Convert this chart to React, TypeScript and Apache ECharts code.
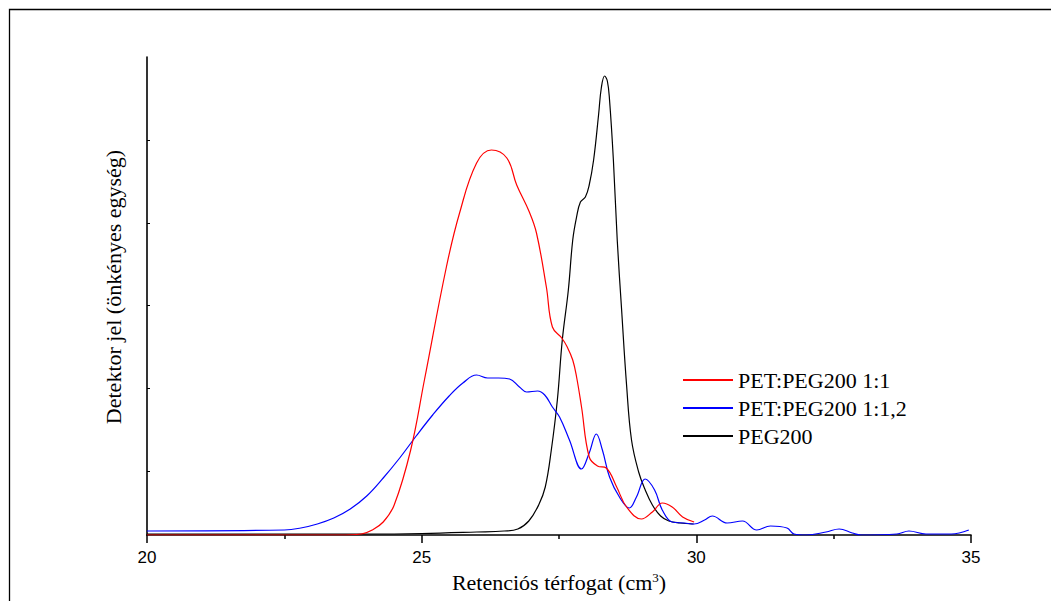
import React, { useEffect, useRef } from "react";
import * as echarts from "echarts";

const seriesNames = ["PET:PEG200 1:1", "PET:PEG200 1:1,2", "PEG200"];

const xTicks = [20, 25, 30, 35];
const yTickValues = [0.64, 1.47, 2.3, 3.12, 3.95];

const petPeg11: number[][] = [
  [20, 0], [23.5, 0], [23.9, 0.01], [24.1, 0.05], [24.3, 0.13], [24.5, 0.3],
  [24.8, 0.85], [25.05, 1.55], [25.45, 2.68], [25.69, 3.22], [26.0, 3.72],
  [26.27, 3.85], [26.55, 3.77], [26.73, 3.5], [26.96, 3.23], [27.09, 3.02],
  [27.27, 2.48], [27.38, 2.08], [27.55, 1.97], [27.65, 1.88], [27.75, 1.75],
  [27.82, 1.58], [27.91, 1.28], [28.05, 0.78], [28.2, 0.69], [28.36, 0.67],
  [28.55, 0.48], [28.73, 0.28], [29.0, 0.16], [29.2, 0.23], [29.38, 0.32],
  [29.56, 0.28], [29.75, 0.18], [29.96, 0.13],
];

const petPeg112: number[][] = [
  [20, 0.04], [22.5, 0.05], [22.8, 0.07], [23.1, 0.11], [23.4, 0.17],
  [23.7, 0.26], [24.0, 0.39], [24.3, 0.57], [24.6, 0.77], [24.9, 0.99],
  [25.2, 1.2], [25.5, 1.39], [25.75, 1.52], [26.0, 1.6], [26.2, 1.57],
  [26.4, 1.57], [26.6, 1.56], [26.78, 1.48], [26.91, 1.43], [27.11, 1.44],
  [27.24, 1.4], [27.38, 1.28], [27.51, 1.18], [27.69, 0.95], [27.91, 0.66],
  [28.05, 0.82], [28.18, 1.01], [28.29, 0.85], [28.42, 0.58], [28.6, 0.38],
  [28.78, 0.27], [28.91, 0.38], [29.07, 0.56], [29.24, 0.45], [29.38, 0.25],
  [29.56, 0.13], [29.78, 0.12], [29.96, 0.11], [30.15, 0.15], [30.29, 0.19],
  [30.56, 0.12], [30.84, 0.14], [31.1, 0.05], [31.35, 0.09], [31.65, 0.07],
  [31.78, 0.01], [32.0, 0.0], [32.36, 0.03], [32.6, 0.06], [32.84, 0.02],
  [33.0, 0.0], [33.65, 0.01], [33.87, 0.04], [34.18, 0.01], [34.64, 0.01],
  [34.96, 0.05],
];

const peg200: number[][] = [
  [20, 0.01], [24, 0.01], [25, 0.015], [26, 0.03], [26.5, 0.04], [26.75, 0.06],
  [26.95, 0.14], [27.13, 0.3], [27.25, 0.48], [27.36, 0.85], [27.47, 1.35],
  [27.56, 1.95], [27.67, 2.45], [27.75, 2.95], [27.82, 3.18], [27.89, 3.33],
  [27.98, 3.38], [28.05, 3.5], [28.13, 3.75], [28.22, 4.2], [28.27, 4.47],
  [28.33, 4.59], [28.38, 4.54], [28.42, 4.35], [28.49, 3.75], [28.56, 2.95],
  [28.64, 2.25], [28.73, 1.5], [28.82, 0.95], [28.95, 0.63], [29.07, 0.45],
  [29.2, 0.3], [29.35, 0.19], [29.5, 0.14], [29.7, 0.12], [29.95, 0.11],
];

const colors = ["#ff0000", "#0000ff", "#000000"];

export default function App() {
  const ref = useRef<HTMLDivElement>(null);
  useEffect(() => {
    if (!ref.current) return;
    const chart = echarts.init(ref.current, null, { renderer: "svg" });
    const datasets = [petPeg11, petPeg112, peg200];
    chart.setOption({
      animation: false,
      backgroundColor: "#ffffff",
      grid: { left: 139, top: 49, width: 824, height: 478, containLabel: false },
      legend: {
        orient: "vertical",
        left: 674,
        top: 361,
        padding: 0,
        itemWidth: 50,
        itemHeight: 18,
        itemGap: 6,
        data: seriesNames,
        itemStyle: { opacity: 0, borderWidth: 0 },
        textStyle: { fontFamily: "Liberation Serif", fontSize: 22, color: "#000" },
      },
      xAxis: {
        type: "value",
        min: xTicks[0],
        max: xTicks[xTicks.length - 1],
        interval: 5,
        name: "{a|Retenciós térfogat (cm}{s|3}{a|)}",
        nameLocation: "middle",
        nameGap: 36,
        nameTextStyle: {
          rich: {
            a: { fontFamily: "Liberation Serif", fontSize: 22, color: "#000" },
            s: { fontFamily: "Liberation Serif", fontSize: 13, color: "#000", verticalAlign: "top", padding: [0, 0, 10, 0] },
          },
        },
        axisLine: { show: true, onZero: false, lineStyle: { color: "#000", width: 1.6 } },
        axisTick: { show: true, inside: false, length: 8, lineStyle: { color: "#000", width: 1.5 } },
        minorTick: { show: true, splitNumber: 2, length: 4, lineStyle: { color: "#000", width: 1.5 } },
        axisLabel: { fontFamily: "Liberation Sans", fontSize: 17, color: "#000", margin: 14 },
        splitLine: { show: false },
      },
      yAxis: {
        type: "value",
        min: 0,
        max: 4.78,
        axisLine: { show: true, onZero: false, lineStyle: { color: "#000", width: 1.6 } },
        axisTick: { show: true, inside: true, length: 3, customValues: yTickValues, lineStyle: { color: "#000", width: 1 } },
        axisLabel: { show: false },
        splitLine: { show: false },
      },
      graphic: [
        {
          type: "rect",
          shape: { x: 1.5, y: 1.5, width: 3000, height: 3000 },
          style: { fill: "none", stroke: "#000", lineWidth: 1.3 },
          silent: true,
        },
        {
          type: "text",
          x: 105,
          y: 279,
          rotation: Math.PI / 2,
          style: {
            text: "Detektor jel (önkényes egység)",
            fontFamily: "Liberation Serif",
            fontSize: 22,
            fill: "#000",
            align: "center",
            verticalAlign: "middle",
          },
        },
      ],
      series: seriesNames.map((name, i) => ({
        name,
        type: "line",
        data: datasets[i],
        symbol: "none",
        smooth: 0.4,
        lineStyle: { color: colors[i], width: 1.2 },
        itemStyle: { color: colors[i] },
        z: 3 - i,
      })),
    });
    return () => chart.dispose();
  }, []);
  return <div ref={ref} style={{ width: 1051, height: 593 }} />;
}
